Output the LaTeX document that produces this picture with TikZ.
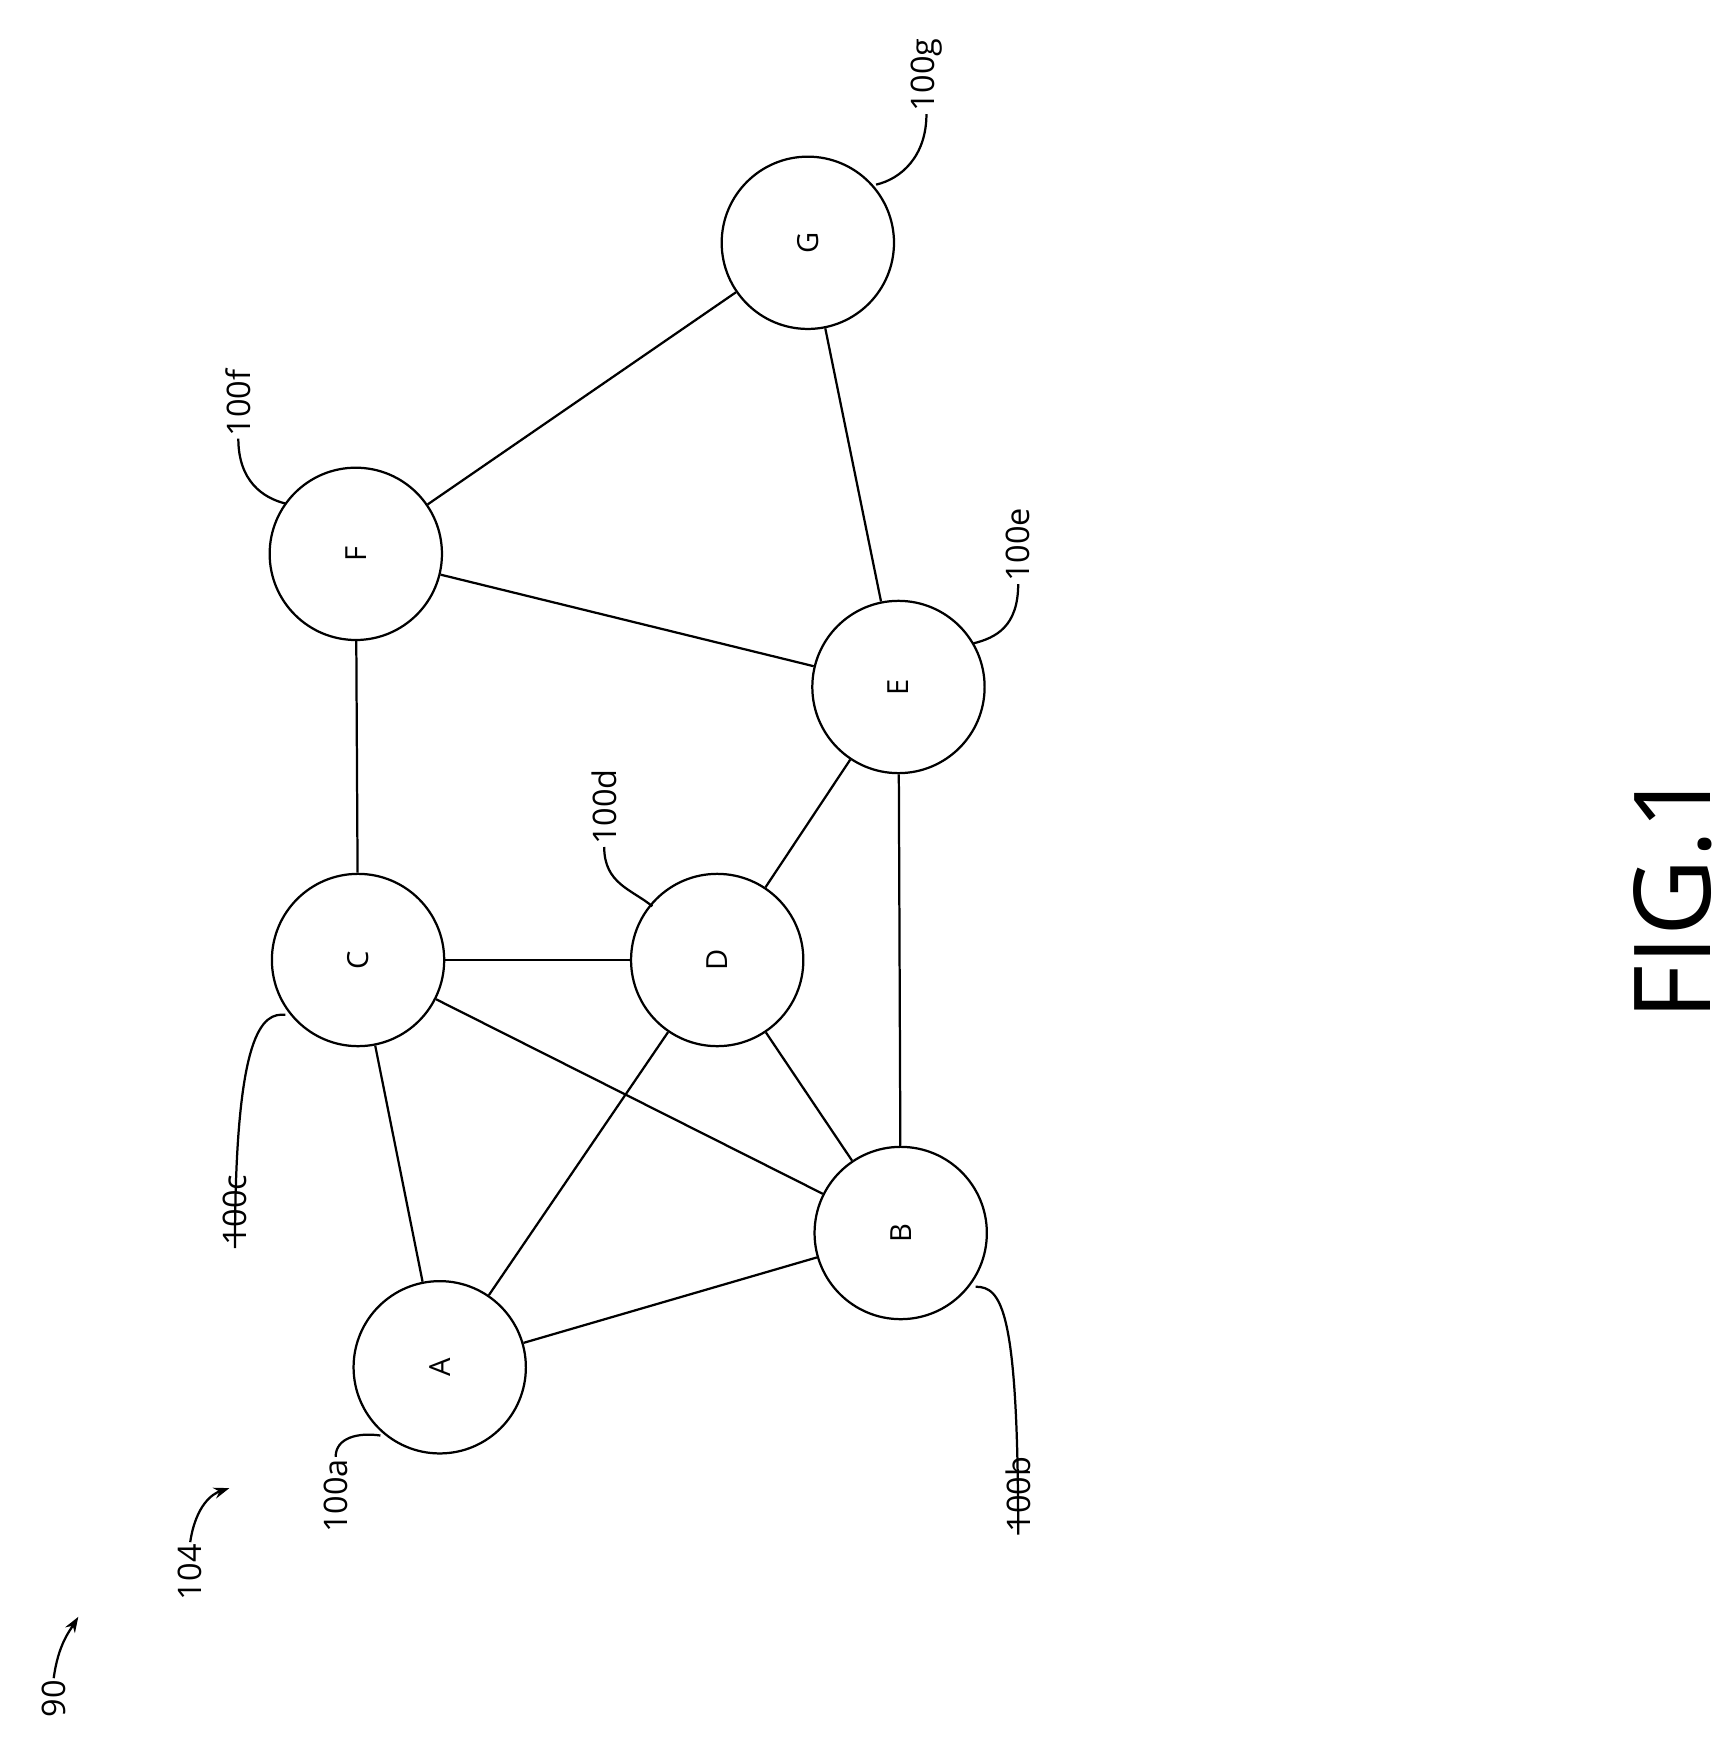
\documentclass[tikz,border=0pt]{standalone}
\usepackage{fontspec}
\setmainfont{Open Sans}
\usetikzlibrary{arrows.meta}
\tikzset{every picture/.style={line width=2pt}}
\tikzset{
	station/.style={draw,circle,minimum size=154pt,inner sep=0pt,font=\fontsize{26}{30}\selectfont,rotate=90},
	reflabel/.style={inner sep=1pt,font=\fontsize{29}{34}\selectfont,rotate=90},
}

\begin{document}
\begin{tikzpicture}[x=1pt,y=1pt,yscale=-1,xscale=1]
	\useasboundingbox (0,0) rectangle (1550,1573);
	
	% Nodes
	\node [station] (A) at (393,1222) {A};
	\node [station] (B) at (805,1102) {B};
	\node [station] (C) at (320,858) {C};
	\node [station] (D) at (641,858) {D};
	\node [station] (E) at (803,614) {E};
	\node [station] (F) at (318,495) {F};
	\node [station] (G) at (722,217) {G};
	
	% Links
	\draw (A) -- (C);
	\draw (A) -- (D);
	\draw (A) -- (B);
	\draw (C) -- (B);
	\draw (C) -- (D);
	\draw (D) -- (B);
	\draw (D) -- (E);
	\draw (B) -- (E);
	\draw (C) -- (F);
	\draw (F) -- (E);
	\draw (F) -- (G);
	\draw (G) -- (E);
	
	% Reference labels
	\node [reflabel,anchor=east] (la) at (300,1302) {100a};
	\draw (la.east) .. controls (300,1285) and (320,1280) .. (340,1283);
	\node [reflabel,anchor=east] (lb) at (910,1300) {100b};
	\draw (lb.west) .. controls (910,1170) and (895,1150) .. (872,1150);
	\node [reflabel,anchor=east] (lc) at (210,1048) {100c};
	\draw (lc.west) .. controls (210,920) and (235,905) .. (255,907);
	\node [reflabel,anchor=west] (ld) at (540,757) {100d};
	\draw (ld.west) .. controls (540,790) and (565,795) .. (583,810);
	\node [reflabel,anchor=west] (le) at (910,522) {100e};
	\draw (le.west) .. controls (910,560) and (890,570) .. (870,575);
	\node [reflabel,anchor=west] (lf) at (213,392) {100f};
	\draw (lf.west) .. controls (213,430) and (235,445) .. (255,450);
	\node [reflabel,anchor=west] (lg) at (828,102) {100g};
	\draw (lg.west) .. controls (828,140) and (805,160) .. (783,165);
	
	% Figure references
	\node [reflabel,anchor=west] (l104) at (170,1432) {104};
	\draw [-{Stealth[length=14pt,width=10pt]}] (l104.east) .. controls (175,1345) and (190,1335) .. (205,1330);
	\node [reflabel,anchor=west] (l90) at (48,1537) {90};
	\draw [-{Stealth[length=14pt,width=10pt]}] (l90.east) .. controls (52,1470) and (62,1458) .. (70,1445);
	
	% Caption
	\node [rotate=90,inner sep=0pt,font=\fontsize{95}{110}\selectfont] (cap) at (1495,800) {FIG.1};
\end{tikzpicture}
\end{document}
